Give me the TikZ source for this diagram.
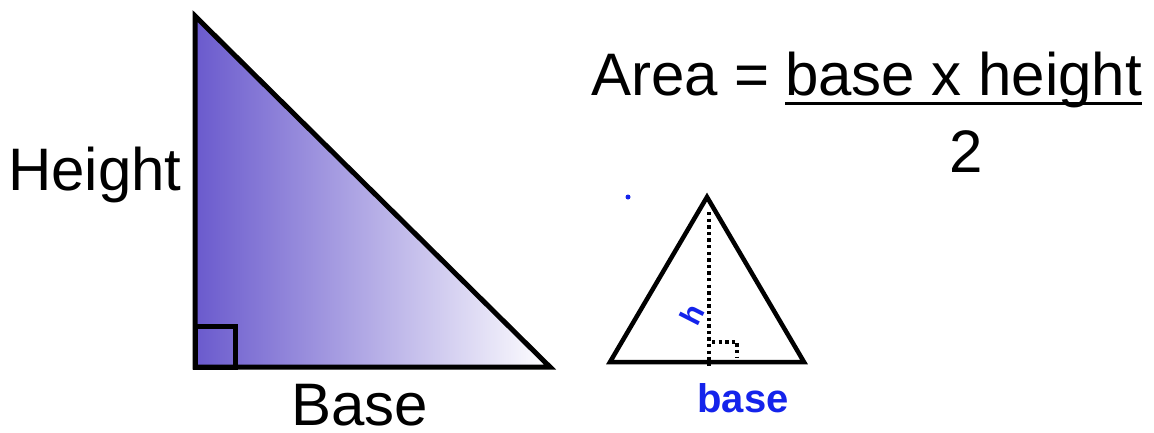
\documentclass[tikz,border=0pt]{standalone}
\usepackage{fontspec}
\setmainfont{Liberation Sans}
\usetikzlibrary{calc}
\definecolor{tripurple}{RGB}{106,90,205}
\definecolor{penblue}{RGB}{20,35,235}
\tikzset{
  bigtext/.style={inner sep=0pt, text depth=0pt, font=\fontsize{60}{72}\selectfont},
  outline/.style={line width=5pt, black},
  dotline/.style={line width=3.3pt, dash pattern=on 3.3pt off 3.3pt, black},
  pen/.style={inner sep=0pt, text=penblue, font=\bfseries\fontsize{40}{48}\selectfont}
}
\begin{document}
\begin{tikzpicture}[x=1pt,y=-1pt]
\useasboundingbox (0,0) rectangle (1154,432);
% big right triangle
\shade[left color=tripurple, right color=white] (195,16) -- (195,367) -- (550,367) -- cycle;
\draw[outline] (195,16) -- (195,367) -- (550,367) -- cycle;
\draw[outline] (195,326) rectangle (235,367);
\node[bigtext, anchor=base west] (hgt) at (8,190) {Height};
\node[bigtext, anchor=base west] (bse) at (291,425) {Base};
% formula
\node[bigtext, anchor=base west] (area) at (591,95) {Area =};
\node[bigtext, anchor=base west] (num) at (785,95) {base x height};
\draw[line width=3pt] ($(num.base west)+(0,8)$) -- ($(num.base east)+(0,8)$);
\node[bigtext, anchor=base] (den) at (966,172) {2};
% small triangle
\draw[line width=4.5pt] (610,362) -- (707,197) -- (804,362) -- cycle;
\coordinate (apex) at (709,212);
\coordinate (foot) at (709,366);
\draw[dotline] (apex) -- (foot);
\coordinate (ra1) at (712,342);
\coordinate (ra2) at (737,342);
\coordinate (ra3) at (737,358);
\draw[dotline] (ra1) -- (ra2) -- (ra3);
\fill[penblue] (628,197) circle (2.5pt);
\node[pen, rotate=63, font=\bfseries\fontsize{30}{32}\selectfont] (hlab) at (692,314) {h};
\node[pen] (blab) at (743,398) {base};
\end{tikzpicture}
\end{document}
